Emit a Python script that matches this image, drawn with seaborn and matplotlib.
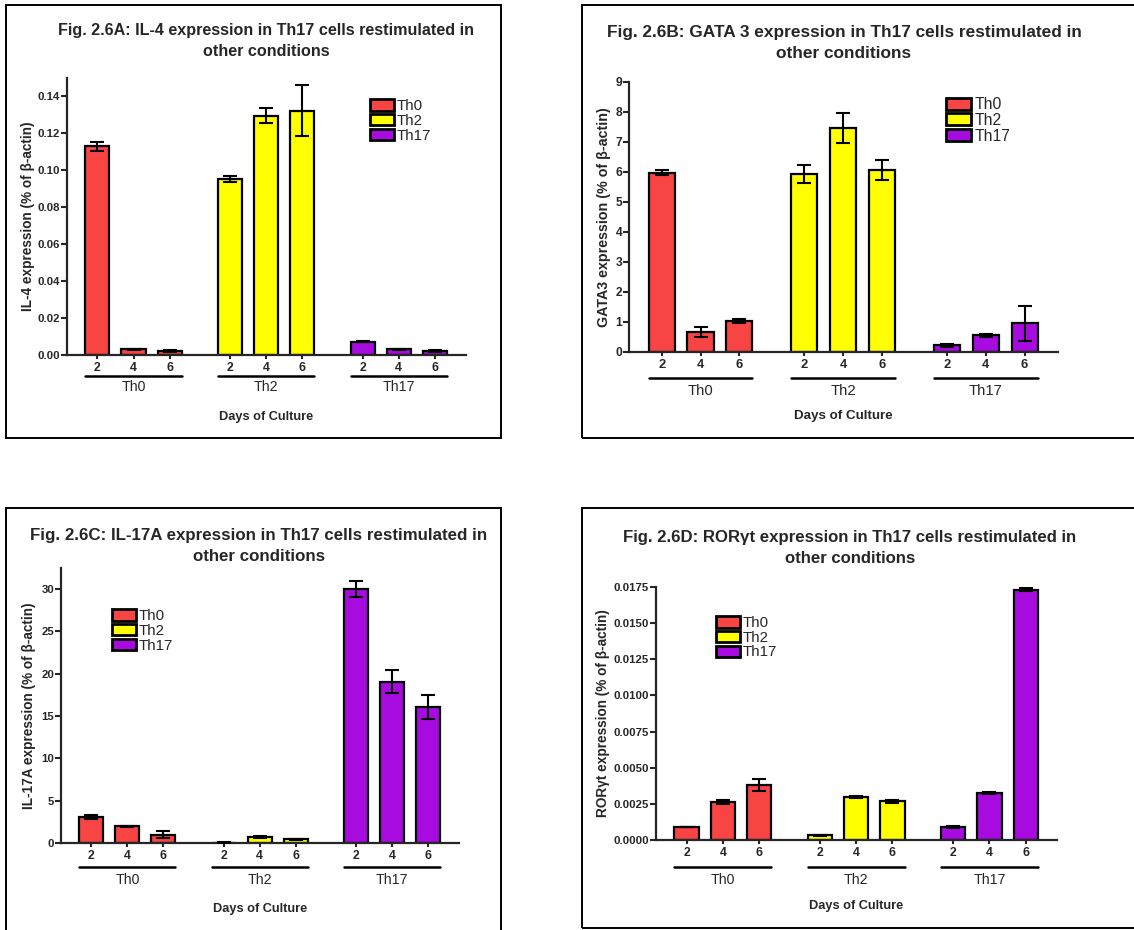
import numpy as np
import pandas as pd
import seaborn as sns
import matplotlib.pyplot as plt
from matplotlib.patches import Rectangle, Patch
from matplotlib.transforms import blended_transform_factory, offset_copy

# --- dados ---
days = [2, 4, 6]
conditions = ['Th0', 'Th2', 'Th17']
cores = ['#F94444', '#FFFF00', '#A80BE0']

il4_mean = [0.113, 0.003, 0.002, 0.0953, 0.1295, 0.1323, 0.0072, 0.003, 0.002]
il4_sem = [0.0025, 0.0002, 0.0005, 0.0018, 0.004, 0.0138, 0.0002, 0.0002, 0.0005]

gata3_mean = [5.98, 0.66, 1.02, 5.94, 7.46, 6.07, 0.22, 0.55, 0.95]
gata3_sem = [0.08, 0.16, 0.07, 0.30, 0.49, 0.33, 0.05, 0.05, 0.59]

il17_mean = [3.08, 1.97, 0.99, 0.05, 0.67, 0.43, 30.0, 19.07, 16.03]
il17_sem = [0.28, 0.05, 0.39, 0.02, 0.12, 0.05, 0.95, 1.34, 1.42]

ror_mean = [0.00090, 0.00263, 0.00382, 0.00032, 0.00297, 0.00269, 0.00087, 0.00325, 0.01732]
ror_sem = [0.00002, 0.00013, 0.00040, 0.00002, 0.00005, 0.00010, 0.00007, 0.00005, 0.00010]

sns.set_style('ticks')
plt.rcParams['font.family'] = ['Liberation Sans', 'DejaVu Sans']

W, H = 1134, 930
fig = plt.figure(figsize=(W / 100, H / 100), dpi=100)

group_step = 3.67
bar_w = 0.67


def monta_df(mean, sem):
    linhas = []
    for g, cond in enumerate(conditions):
        for d, day in enumerate(days):
            i = g * 3 + d
            linhas.append({'condition': cond, 'day': day, 'pos': g * group_step + d,
                           'value': mean[i], 'sem': sem[i]})
    return pd.DataFrame(linhas)


paineis = [
    dict(mean=il4_mean, sem=il4_sem, box=(6, 5, 501, 438), ax=(67, 466, 78, 355),
         ylim=0.15, yticks=np.arange(0, 0.141, 0.02), fmt='{:.2f}',
         title='Fig. 2.6A: IL-4 expression in Th17 cells restimulated in\nother conditions',
         tpos=(266, 41), tsize=11.6, ylabel='IL-4 expression (% of β-actin)', ylx=28,
         leg=(370, 99), line_off=21, lab_off=32, days_off=62, fs=1.0),
    dict(mean=gata3_mean, sem=gata3_sem, box=(582, 5, 1140, 438), ax=(629, 1058, 82, 352),
         ylim=9, yticks=np.arange(0, 10, 1), fmt='{:.0f}',
         title='Fig. 2.6B: GATA 3 expression in Th17 cells restimulated in\nother conditions',
         tpos=(844, 43), tsize=12.4, ylabel='GATA3 expression (% of β-actin)', ylx=604,
         leg=(946, 97), line_off=26, lab_off=39, days_off=64, fs=1.05),
    dict(mean=il17_mean, sem=il17_sem, box=(6, 508, 501, 935), ax=(61, 459, 568, 843),
         ylim=32.5, yticks=np.arange(0, 31, 5), fmt='{:.0f}',
         title='Fig. 2.6C: IL-17A expression in Th17 cells restimulated in\nother conditions',
         tpos=(259, 546), tsize=12.2, ylabel='IL-17A expression (% of β-actin)', ylx=29,
         leg=(112, 609), line_off=24, lab_off=37, days_off=66, fs=1.0),
    dict(mean=ror_mean, sem=ror_sem, box=(582, 508, 1140, 928), ax=(656, 1057, 587, 840),
         ylim=0.0175, yticks=np.arange(0, 0.01751, 0.0025), fmt='{:.4f}',
         title='Fig. 2.6D: RORγt expression in Th17 cells restimulated in\nother conditions',
         tpos=(850, 548), tsize=12.1, ylabel='RORγt expression (% of β-actin)', ylx=603,
         leg=(716, 616), line_off=27, lab_off=40, days_off=66, fs=1.0),
]

for p in paineis:
    # moldura do painel
    x0, y0, x1, y1 = p['box']
    fig.patches.append(Rectangle((x0 / W, 1 - y1 / H), (x1 - x0) / W, (y1 - y0) / H,
                                 transform=fig.transFigure, fill=False,
                                 edgecolor='black', linewidth=1.4))
    l, r, t, b = p['ax']
    ax = fig.add_axes([l / W, 1 - b / H, (r - l) / W, (b - t) / H])
    df = monta_df(p['mean'], p['sem'])

    sns.barplot(data=df, x='pos', y='value', hue='condition', hue_order=conditions,
                palette=cores, saturation=1, native_scale=True, dodge=False, width=bar_w,
                edgecolor='black', linewidth=1.6, errorbar=None, legend=False, ax=ax)
    ax.errorbar(df['pos'], df['value'], yerr=df['sem'], fmt='none', ecolor='black',
                elinewidth=1.5, capsize=4.7, capthick=1.5, zorder=5)

    ax.set_xlim(-0.84, 2 * group_step + 2 + 0.86)
    ax.set_ylim(0, p['ylim'])
    ax.set_yticks(p['yticks'])
    ax.set_yticklabels([p['fmt'].format(v) for v in p['yticks']],
                       fontweight='bold', fontsize=8.2 * p['fs'])
    ax.set_xticks(df['pos'])
    ax.set_xticklabels(df['day'], fontweight='bold', fontsize=8.8 * p['fs'])
    ax.tick_params(axis='y', length=4, width=1.5, pad=1)
    ax.tick_params(axis='x', length=3, width=1.5, pad=2)
    ax.set_xlabel('')
    sns.despine(ax=ax)
    for s in ['left', 'bottom']:
        ax.spines[s].set_linewidth(1.6)

    ax.set_ylabel(p['ylabel'], fontweight='bold', fontsize=9.8 * p['fs'], va='center')
    ax.yaxis.set_label_coords((p['ylx'] - l) / (r - l), 0.5)

    # linhas e rotulos dos grupos
    trans = blended_transform_factory(ax.transData, ax.transAxes)
    for g, cond in enumerate(conditions):
        xa = g * group_step - bar_w / 2
        xb = g * group_step + 2 + bar_w / 2
        ax.plot([xa, xb], [0, 0], color='black', lw=1.8, clip_on=False,
                transform=offset_copy(trans, fig=fig, y=-p['line_off'], units='dots'))
        ax.text((xa + xb) / 2, 0, cond, ha='center', va='center', fontsize=10.2 * p['fs'],
                transform=offset_copy(trans, fig=fig, y=-p['lab_off'], units='dots'))
    ax.text(0.5, 0, 'Days of Culture', ha='center', va='center', fontweight='bold',
            fontsize=9.2 * p['fs'],
            transform=offset_copy(ax.transAxes, fig=fig, y=-p['days_off'], units='dots'))

    # legenda
    handles = [Patch(facecolor=c, edgecolor='black', linewidth=2) for c in cores]
    ax.legend(handles, conditions, loc='upper left',
              bbox_to_anchor=(p['leg'][0] / W, 1 - p['leg'][1] / H),
              bbox_transform=fig.transFigure, frameon=False, fontsize=10.8 * p['fs'],
              borderpad=0, borderaxespad=0, handlelength=1.6, handleheight=0.8,
              handletextpad=0.2, labelspacing=0.05)

    fig.text(p['tpos'][0] / W, 1 - p['tpos'][1] / H, p['title'], ha='center', va='center',
             fontweight='bold', fontsize=p['tsize'], linespacing=1.5)

fig.savefig('out.png', dpi=100)
